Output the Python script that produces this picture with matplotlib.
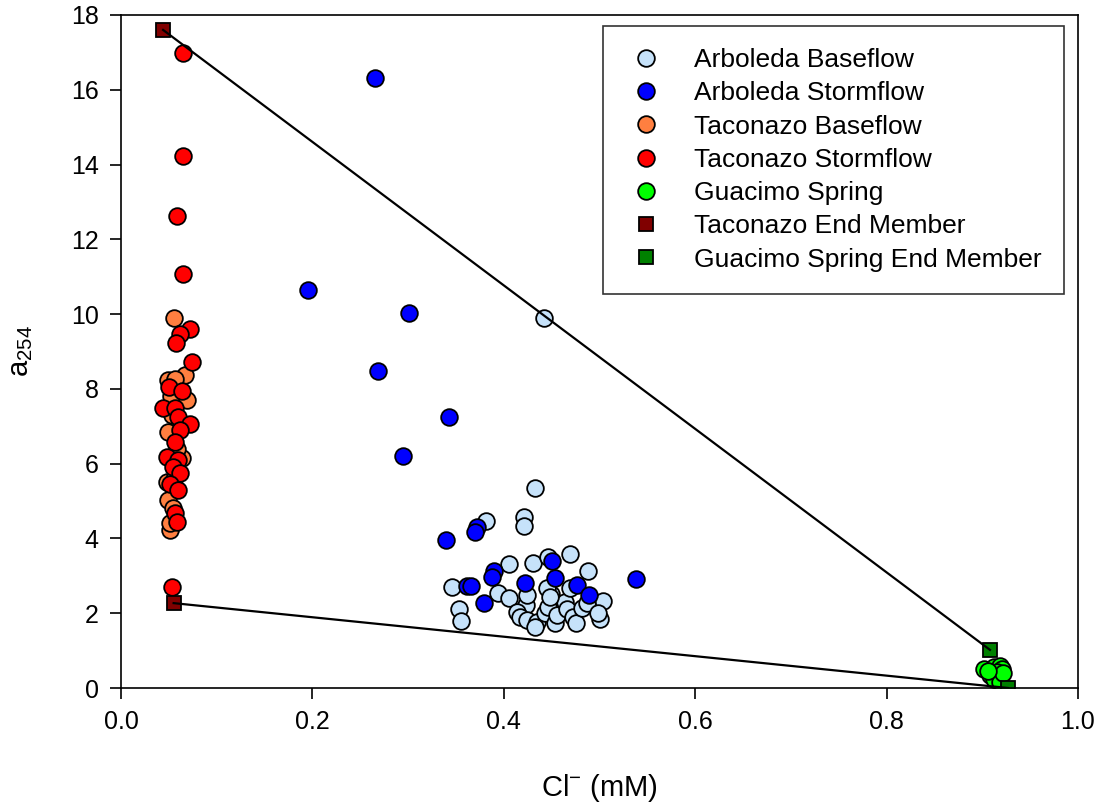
import matplotlib
import matplotlib.pyplot as plt
import numpy as np

matplotlib.use("Agg")

plt.rcParams['font.family'] = ['Liberation Sans', 'DejaVu Sans']
plt.rcParams['mathtext.default'] = 'regular'

# Arboleda baseflow (Cl- mM, a254)
arb_base_x = [0.442, 0.433, 0.381, 0.421, 0.421, 0.346, 0.353, 0.355, 0.405, 0.431,
              0.446, 0.469, 0.488, 0.394, 0.405, 0.504, 0.500, 0.423, 0.414, 0.417,
              0.424, 0.435, 0.433, 0.443, 0.446, 0.449, 0.453, 0.456, 0.464, 0.466,
              0.472, 0.475, 0.482, 0.487, 0.498, 0.469, 0.445, 0.424, 0.448]
arb_base_y = [9.90, 5.35, 4.47, 4.57, 4.33, 2.70, 2.11, 1.79, 3.32, 3.34,
              3.50, 3.58, 3.13, 2.54, 2.41, 2.33, 1.85, 2.22, 2.04, 1.90,
              1.82, 1.77, 1.63, 2.01, 2.17, 2.51, 1.74, 1.95, 2.30, 2.11,
              1.90, 1.74, 2.14, 2.27, 2.01, 2.67, 2.67, 2.49, 2.44]

# Arboleda stormflow
arb_storm_x = [0.265, 0.195, 0.301, 0.269, 0.343, 0.295, 0.340, 0.372, 0.370, 0.390,
               0.388, 0.362, 0.366, 0.379, 0.422, 0.450, 0.453, 0.476, 0.489, 0.538]
arb_storm_y = [16.31, 10.64, 10.03, 8.48, 7.25, 6.20, 3.96, 4.31, 4.17, 3.13,
               2.97, 2.73, 2.72, 2.27, 2.81, 3.40, 2.94, 2.75, 2.49, 2.92]

# Taconazo baseflow
tac_base_x = [0.055, 0.067, 0.049, 0.056, 0.069, 0.049, 0.064, 0.048, 0.049, 0.054,
              0.051, 0.051, 0.053, 0.058, 0.055, 0.052]
tac_base_y = [9.89, 8.37, 8.24, 8.26, 7.70, 6.85, 6.15, 5.51, 5.03, 4.81,
              4.22, 4.41, 7.30, 6.40, 5.60, 7.80]

# Taconazo stormflow
tac_storm_x = [0.065, 0.065, 0.059, 0.065, 0.072, 0.062, 0.057, 0.074, 0.050, 0.064,
               0.044, 0.056, 0.060, 0.072, 0.062, 0.056, 0.048, 0.060, 0.054, 0.062,
               0.051, 0.060, 0.056, 0.058, 0.053]
tac_storm_y = [16.98, 14.23, 12.62, 11.07, 9.60, 9.47, 9.22, 8.72, 8.05, 7.95,
               7.49, 7.49, 7.25, 7.06, 6.90, 6.58, 6.18, 6.10, 5.91, 5.75,
               5.45, 5.30, 4.68, 4.44, 2.70]

# Guacimo spring
guac_x = [0.902, 0.912, 0.918, 0.921, 0.915, 0.908, 0.912, 0.918, 0.922, 0.906]
guac_y = [0.52, 0.55, 0.58, 0.50, 0.42, 0.35, 0.25, 0.15, 0.40, 0.45]

# End members
tac_em_x = [0.044, 0.055]
tac_em_y = [17.6, 2.27]
guac_em_x = [0.908, 0.927]
guac_em_y = [1.02, 0.0]

fig = plt.figure(figsize=(11.04, 8.09), dpi=100)
ax = fig.add_axes([121 / 1104, 1 - 688 / 809, 957 / 1104, 673 / 809])

ms = 12.0
common = dict(linestyle='none', marker='o', markersize=ms, markeredgecolor='black',
              markeredgewidth=1.3)
ax.plot(arb_base_x, arb_base_y, color='#C6E2FA', label='Arboleda Baseflow', zorder=2, **common)
ax.plot(arb_storm_x, arb_storm_y, color='#0000FF', label='Arboleda Stormflow', zorder=2.1, **common)
ax.plot(tac_base_x, tac_base_y, color='#FF7F40', label='Taconazo Baseflow', zorder=2, **common)
ax.plot(tac_storm_x, tac_storm_y, color='#FF0000', label='Taconazo Stormflow', zorder=2.1, **common)
ax.plot(guac_x, guac_y, color='#00FF00', label='Guacimo Spring', zorder=2, **common)

sq = dict(linestyle='none', marker='s', markersize=10.5, markeredgecolor='black',
          markeredgewidth=1.3)
ax.plot(tac_em_x, tac_em_y, color='#800000', label='Taconazo End Member', zorder=2.2, **sq)
ax.plot(guac_em_x, guac_em_y, color='#008000', label='Guacimo Spring End Member', zorder=2.2, **sq)

# mixing lines between end members
ax.plot([tac_em_x[0], guac_em_x[0]], [tac_em_y[0], guac_em_y[0]], color='black', lw=1.6, zorder=3)
ax.plot([tac_em_x[1], guac_em_x[1]], [tac_em_y[1], guac_em_y[1]], color='black', lw=1.6, zorder=3)

ax.set_xlim(0, 1.0)
ax.set_ylim(0, 18)
ax.set_xticks(np.arange(0, 1.01, 0.2))
ax.set_xticklabels([f'{v:.1f}' for v in np.arange(0, 1.01, 0.2)])
ax.set_yticks(np.arange(0, 19, 2))
ax.tick_params(axis='both', direction='out', length=8, width=1.2, labelsize=18, pad=8)
ax.tick_params(top=False, right=False)
for s in ax.spines.values():
    s.set_linewidth(1.2)

ax.set_xlabel('Cl$^{-}$ (mM)', fontsize=21, labelpad=27)
ax.set_ylabel('a$_{254}$', fontsize=21, labelpad=26)

leg = ax.legend(loc='upper right', bbox_to_anchor=(0.985, 0.984), borderaxespad=0,
                fancybox=False, edgecolor='black', fontsize=19, markerscale=1.0,
                handletextpad=1.0, labelspacing=0.35, borderpad=0.85, handlelength=1.6)
leg.get_frame().set_linewidth(1.2)
leg.set_zorder(5)

fig.savefig('out.png', dpi=100)
